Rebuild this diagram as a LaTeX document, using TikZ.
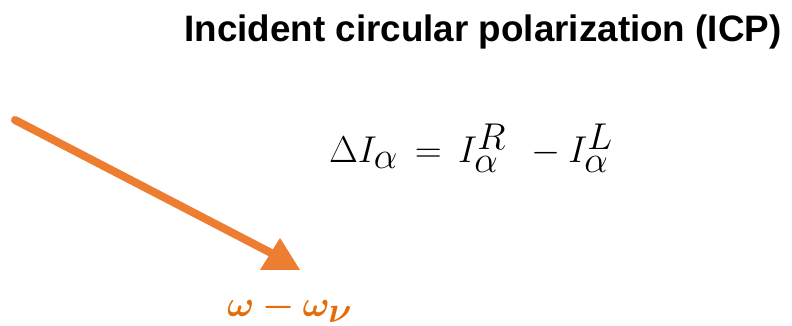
\documentclass[tikz,border=0pt]{standalone}
\usepackage{amsmath,bm}
\usepackage{fontspec}
\newfontfamily\titlefont{Liberation Sans}
\definecolor{arroworange}{RGB}{237,125,49}
\definecolor{textorange}{RGB}{228,108,10}
\begin{document}
\begin{tikzpicture}[x=1pt,y=1pt,
  lbl/.style={inner sep=0pt, outer sep=0pt}]
\useasboundingbox (0,0) rectangle (792,326);
\node[lbl, anchor=base] (title) at (483,284.3) {\titlefont\bfseries\fontsize{36.8}{42}\selectfont Incident circular polarization (ICP)};
\node[lbl, anchor=base west, scale=1.5] (eq) at (329,163) {\fontsize{37}{44}\selectfont $\Delta I_\alpha \,=\, I_\alpha^R\;\, - I_\alpha^L$};
\node[lbl, anchor=base west, text=textorange, scale=1.45] (om) at (227,9) {\fontsize{34}{40}\selectfont $\bm{\omega} \bm{-} \bm{\omega}_{\bm{\nu}}$};
\coordinate (start) at (15,206);
\coordinate (head) at (277,70);
\draw[arroworange, line width=8pt, line cap=round] (start) -- (head);
\fill[arroworange] (280,88) -- (260,56) -- (300,56) -- cycle;
\end{tikzpicture}
\end{document}
